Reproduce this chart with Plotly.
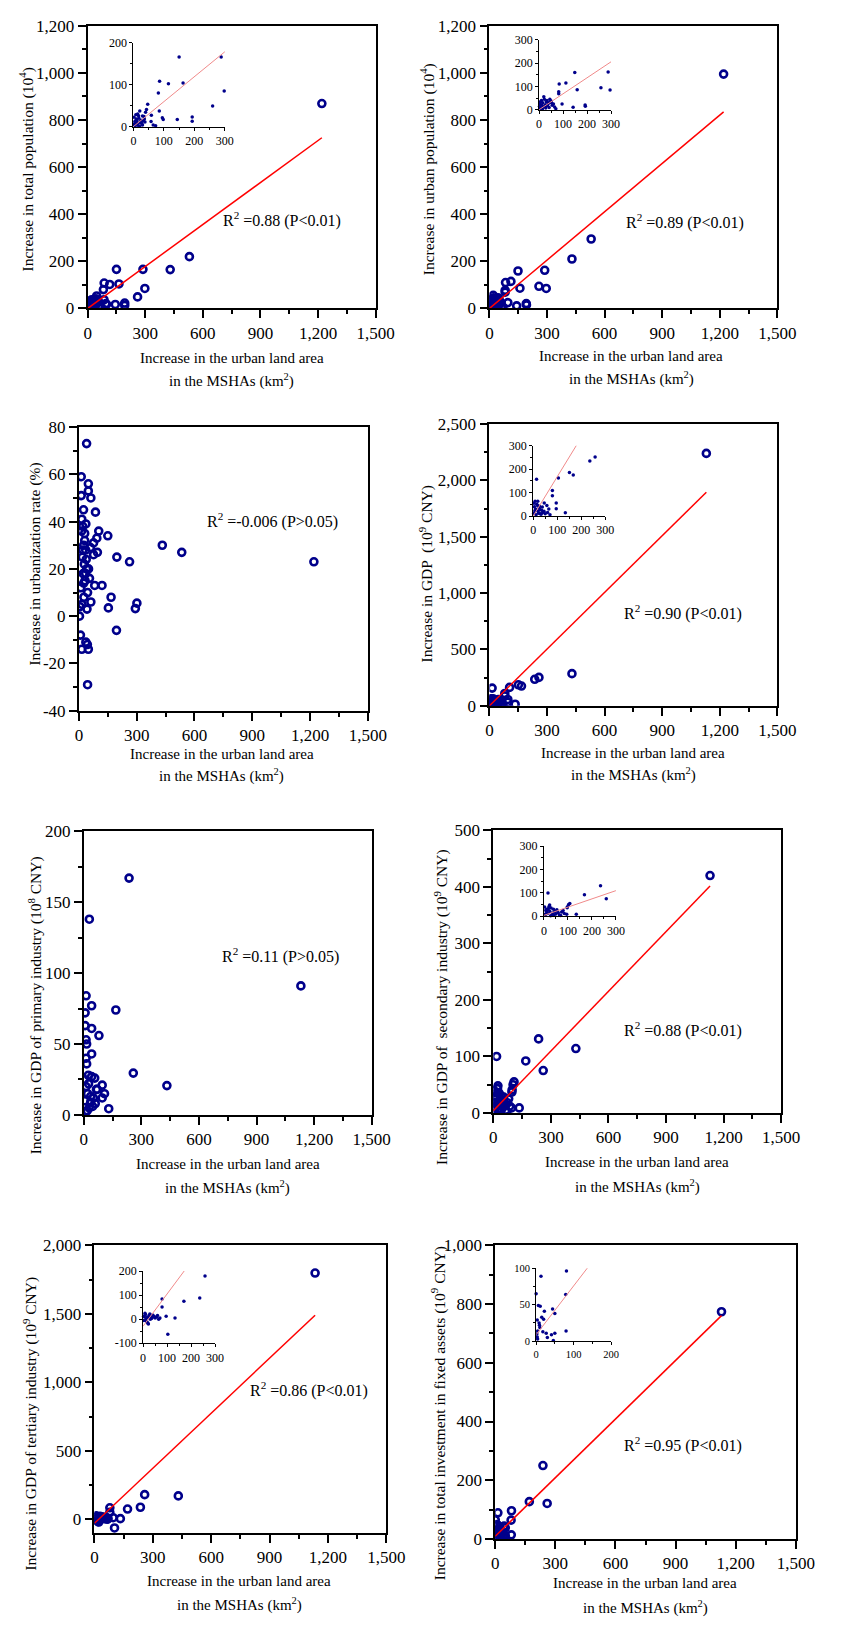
import plotly.graph_objects as go

W, H = 845, 1629
FONT = "Liberation Serif, Times New Roman, serif"
NAVY = "#00008B"

# ---------------- data ----------------
# Panel 1: total population (10^4)
x1 = [1220, 530, 430, 288, 298, 260, 150, 163, 86, 115,
      82, 47, 43, 40, 85, 59, 21, 36, 95, 98,
      144, 193, 193, 73, 65, 58, 30, 25, 18, 12,
      8, 5, 3, 15, 22, 28, 33, 10, 6, 2,
      14, 26, 35, 20, 9, 4, 17, 30, 38, 12]
y1 = [870, 220, 165, 166, 85, 49, 166, 104, 108, 102,
      80, 53, 41, 34, 37, 27, 37, 18, 21, 17,
      17, 23, 13, 2, 4, 12, 25, 15, 20, 8,
      28, 12, 5, 3, 10, 6, 14, 18, 2, 22,
      30, 9, 24, 1, 16, 7, 26, 4, 11, 14]
fit1 = (0.594, 0.0)

# Panel 2: urban population (10^4)
x2 = [1220, 530, 430, 288, 296, 258, 149, 159, 84, 112,
      82, 82, 96, 142, 192, 193, 20, 50, 45, 38,
      30, 55, 60, 25, 15, 10, 5, 3, 8, 12,
      18, 22, 28, 35, 40, 42, 48, 33, 6, 14,
      26, 2, 65, 70, 52]
y2 = [995, 295, 210, 162, 85, 94, 159, 86, 110, 115,
      77, 69, 25, 11, 21, 15, 56, 38, 45, 30,
      35, 20, 25, 15, 30, 40, 10, 25, 5, 20,
      12, 45, 8, 18, 28, 10, 32, 40, 35, 3,
      22, 15, 12, 5, 30]
fit2 = (0.684, 0.0)

# Panel 3: urbanization rate (%)
x3 = [1220, 40, 12, 49, 49, 62, 12, 24, 86, 15,
      36, 103, 150, 93, 76, 96, 433, 534, 197, 263,
      76, 82, 120, 167, 153, 301, 293, 62, 3, 195,
      8, 36, 15, 49, 45, 20, 30, 25, 35, 18,
      28, 40, 22, 32, 10, 45, 55, 38, 26, 16,
      42, 30, 20, 50, 35, 25, 5, 60, 14, 44]
y3 = [23, 73, 59, 56, 53, 50, 51, 45, 44, 41,
      39, 36, 34, 33, 31, 27, 30, 27, 25, 23,
      26, 13, 13, 8, 3.5, 5.5, 3.2, 6, 0, -6,
      -8, -11, -14, -14, -29, 38, 35, 30, 28, 25,
      22, 20, 18, 15, 12, 10, 16, 24, 8, 5,
      3, 32, 28, 20, 18, 14, 4, 29, 36, -12]

# Panel 4: GDP (10^9 CNY)
x4 = [1130, 430, 258, 236, 151, 167, 105, 14, 80, 80,
      96, 96, 134, 46, 57, 19, 8, 5, 10, 15,
      20, 25, 30, 35, 40, 3, 12, 18, 22, 28,
      33, 38, 45, 50, 60, 70, 7, 2, 65, 26]
y4 = [2240, 285, 252, 235, 186, 175, 163, 157, 109, 87,
      56, 31, 14, 56, 45, 63, 63, 40, 30, 50,
      20, 35, 10, 25, 15, 55, 5, 45, 12, 28,
      8, 38, 20, 10, 15, 5, 22, 12, 30, 42]
fit4 = (1.677, 0.0)

# Panel 5: GDP of primary industry (10^8 CNY)
x5 = [1131, 236, 29, 12, 41, 167, 7, 7, 41, 79,
      12, 15, 41, 12, 15, 24, 41, 57, 258, 433,
      96, 66, 108, 96, 36, 46, 130, 36, 12, 5,
      20, 28, 8, 3, 50, 60, 25, 18, 70]
y5 = [91, 167, 138, 84, 77, 74, 72, 63, 61, 56,
      53, 50, 43, 40, 36, 28, 27, 26, 29.5, 20.7,
      21, 18, 15, 12, 13, 6, 4.4, 9, 20, 10,
      15, 5, 2, 25, 12, 8, 22, 3, 18]

# Panel 6: GDP of secondary industry (10^9 CNY)
x6 = [1129, 236, 430, 169, 260, 17, 108, 24, 98, 135,
      103, 97, 54, 74, 95, 22, 11, 30, 40, 45,
      50, 60, 5, 8, 15, 20, 25, 35, 65, 80,
      12, 3, 28, 38, 55, 70, 85, 18, 42, 7]
y6 = [420, 131, 114, 92, 75, 100, 55, 48, 41, 9,
      50, 37, 28, 18, 9, 43, 30, 35, 30, 20,
      10, 15, 5, 25, 12, 35, 20, 8, 5, 25,
      18, 40, 2, 14, 22, 3, 12, 28, 6, 10]
fit6 = (0.352, 4.0)

# Panel 7: GDP of tertiary industry (10^9 CNY)
x7 = [1134, 431, 258, 236, 170, 79, 133, 103, 79, 96,
      70, 56, 37, 20, 10, 5, 15, 25, 30, 40,
      45, 50, 8, 3, 12, 18, 22, 28, 35, 60,
      2, 14, 42, 65]
y7 = [1798, 171, 180, 88, 75, 84, 5, -63, 51, 12,
      5, 9, 7, -17, 20, 10, -10, 15, 0, 18,
      12, 5, 25, -5, 2, 8, -20, 22, 3, 15,
      12, -8, 10, 0]
fit7 = (1.34, -29.0)

# Panel 8: total investment in fixed assets (10^9 CNY)
x8 = [1129, 238, 259, 170, 81, 79, 80, 13, 0, 6,
      11, 22, 44, 50, 15, 3, 10, 18, 27, 50,
      41, 46, 4, 3, 9, 4, 8, 2, 20, 30]
y8 = [774, 250, 121, 127, 96, 64, 14, 89, 65, 49,
      48, 41, 44, 38, 33, 29, 19, 13, 11, 11,
      9, 1, 3, 6, 22, 14, 25, 10, 30, 5]
fit8 = (0.666, 9.0)

y_titles = [
    "Increase in total population (10<sup>4</sup>)",
    "Increase in urban population (10<sup>4</sup>)",
    "Increase in urbanization rate (%)",
    "Increase in GDP  (10<sup>9</sup> CNY)",
    "Increase in GDP of primary industry (10<sup>8</sup> CNY)",
    "Increase in GDP of  secondary industry (10<sup>9</sup> CNY)",
    "Increase in GDP of tertiary industry (10<sup>9</sup> CNY)",
    "Increase in total investment in fixed assets (10<sup>9</sup> CNY)",
]
r2_texts = [
    "R<sup>2</sup> =0.88 (P&lt;0.01)",
    "R<sup>2</sup> =0.89 (P&lt;0.01)",
    "R<sup>2</sup> =-0.006 (P&gt;0.05)",
    "R<sup>2</sup> =0.90 (P&lt;0.01)",
    "R<sup>2</sup> =0.11 (P&gt;0.05)",
    "R<sup>2</sup> =0.88 (P&lt;0.01)",
    "R<sup>2</sup> =0.86 (P&lt;0.01)",
    "R<sup>2</sup> =0.95 (P&lt;0.01)",
]
x_title_1 = "Increase in the urban land area"
x_title_2 = "in the MSHAs (km<sup>2</sup>)"

# ---------------- layout config (pixel positions on the page) ----------------
panels = [
    dict(x=x1, y=y1, fit=fit1, yr=[0, 1200], ydt=200, box=(86, 382, 17, 303),
         yt=(23, 162), xt=(234, 353, 376), r2=(223, 213),
         inset=dict(xr=[0, 300], yr=[0, 200], xdt=100, ydt=100, px=(133, 227), py=(119, 34), fs=12)),
    dict(x=x2, y=y2, fit=fit2, yr=[0, 1200], ydt=200, box=(499, 795, 17, 303),
         yt=(435, 162), xt=(645, 351, 374), r2=(637, 215),
         inset=dict(xr=[0, 300], yr=[0, 300], xdt=100, ydt=100, px=(550, 624), py=(102, 31), fs=12)),
    dict(x=x3, y=y3, fit=None, yr=[-40, 80], ydt=20, box=(77, 374, 423, 710),
         yt=(32, 562), xt=(224, 754, 776), r2=(207, 518), inset=None),
    dict(x=x4, y=y4, fit=fit4, yr=[0, 2500], ydt=500, box=(499, 795, 420, 705),
         yt=(434, 572), xt=(647, 753, 775), r2=(635, 611),
         inset=dict(xr=[0, 300], yr=[0, 300], xdt=100, ydt=100, px=(544, 618), py=(513, 442), fs=12)),
    dict(x=x5, y=y5, fit=None, yr=[0, 200], ydt=50, box=(82, 378, 832, 1119),
         yt=(32, 1008), xt=(230, 1169, 1192), r2=(222, 958), inset=None),
    dict(x=x6, y=y6, fit=fit6, yr=[0, 500], ydt=100, box=(503, 799, 831, 1117),
         yt=(449, 1010), xt=(651, 1167, 1191), r2=(635, 1033),
         inset=dict(xr=[0, 300], yr=[0, 300], xdt=100, ydt=100, px=(555, 629), py=(918, 847), fs=12)),
    dict(x=x7, y=y7, fit=fit7, yr=[-100, 2000], ydt=500, box=(93, 393, 1251, 1542),
         yt=(27, 1431), xt=(242, 1591, 1614), r2=(251, 1397),
         inset=dict(xr=[0, 300], yr=[-100, 200], xdt=100, ydt=100, px=(143, 217), py=(1350, 1277), fs=12)),
    dict(x=x8, y=y8, fit=fit8, yr=[0, 1000], ydt=200, box=(505, 814, 1251, 1548),
         yt=(447, 1421), xt=(659, 1593, 1617), r2=(635, 1452),
         inset=dict(xr=[0, 200], yr=[0, 100], xdt=100, ydt=50, px=(547, 624), py=(1348, 1274), fs=10.5)),
]


def px_x(p):
    return p / W


def px_y(p):
    return 1 - p / H


def tick_list(lo, hi, step):
    vals = []
    v = lo
    while v <= hi + 1e-9:
        vals.append(v)
        v += step
    return vals


def tick_text(vals):
    return ["{:,}".format(int(v)) for v in vals]  # plain hyphen for negatives


fig = go.Figure()
layout = dict(width=W, height=H, margin=dict(l=0, r=0, t=0, b=0), showlegend=False,
              paper_bgcolor="white", plot_bgcolor="white",
              font=dict(family=FONT, color="black"))
annotations = []


def ax_name(kind, n):
    return f"{kind}axis" if n == 1 else f"{kind}axis{n}"


def ref(kind, n):
    return kind if n == 1 else f"{kind}{n}"


for i, p in enumerate(panels):
    n = i + 1
    l, r, t, b = p["box"]
    common = dict(showline=True, mirror=True, linecolor="black", linewidth=1.8,
                  ticks="outside", ticklen=8, tickwidth=1.5, tickcolor="black",
                  showgrid=False, zeroline=False,
                  tickfont=dict(size=17, family=FONT, color="black"))
    xv = tick_list(0, 1500, 300)
    layout[ax_name("x", n)] = dict(common, domain=[px_x(l), px_x(r)], range=[0, 1500],
                                   anchor=ref("y", n), tickmode="array", tickvals=xv,
                                   ticktext=tick_text(xv),
                                   minor=dict(tickmode="linear", tick0=0, dtick=150, ticklen=4,
                                              tickwidth=1.5, tickcolor="black", ticks="outside"))
    yv = tick_list(p["yr"][0] if p["yr"][0] % p["ydt"] == 0 else 0, p["yr"][1], p["ydt"])
    layout[ax_name("y", n)] = dict(common, domain=[px_y(b), px_y(t)], range=p["yr"],
                                   anchor=ref("x", n), tickmode="array", tickvals=yv,
                                   ticktext=tick_text(yv),
                                   minor=dict(tickmode="linear", tick0=0, dtick=p["ydt"] / 2,
                                              ticklen=4, tickwidth=1.5, tickcolor="black",
                                              ticks="outside"))
    fig.add_trace(go.Scatter(x=p["x"], y=p["y"], mode="markers",
                             xaxis=ref("x", n), yaxis=ref("y", n),
                             marker=dict(symbol="circle-open", size=7, color=NAVY,
                                         line=dict(width=2.6, color=NAVY))))
    if p["fit"] is not None:
        s, c = p["fit"]
        xe = [0, max(p["x"])]
        fig.add_trace(go.Scatter(x=xe, y=[s * v + c for v in xe], mode="lines",
                                 xaxis=ref("x", n), yaxis=ref("y", n),
                                 line=dict(color="#FF0000", width=1.5)))
    # annotations
    annotations.append(dict(text=y_titles[i], x=px_x(p["yt"][0]), y=px_y(p["yt"][1]),
                            xref="paper", yref="paper", showarrow=False, textangle=-90,
                            xanchor="center", yanchor="middle",
                            font=dict(size=15.5, family=FONT, color="black")))
    cx, ly1, ly2 = p["xt"]
    for txt, yy in ((x_title_1, ly1), (x_title_2, ly2)):
        annotations.append(dict(text=txt, x=px_x(cx), y=px_y(yy), xref="paper", yref="paper",
                                showarrow=False, xanchor="center", yanchor="middle",
                                font=dict(size=15, family=FONT, color="black")))
    annotations.append(dict(text=r2_texts[i], x=px_x(p["r2"][0]), y=px_y(p["r2"][1]),
                            xref="paper", yref="paper", showarrow=False,
                            xanchor="left", yanchor="middle",
                            font=dict(size=16, family=FONT, color="black")))

    ins = p["inset"]
    if ins is not None:
        m = n + 8
        icommon = dict(showline=True, mirror=False, linecolor="black", linewidth=1,
                       ticks="outside", ticklen=3, tickwidth=1, tickcolor="black",
                       showgrid=False, zeroline=False,
                       tickfont=dict(size=ins["fs"], family=FONT, color="black"))
        ixv = tick_list(ins["xr"][0], ins["xr"][1], ins["xdt"])
        iyv = tick_list(ins["yr"][0], ins["yr"][1], ins["ydt"])
        layout[ax_name("x", m)] = dict(icommon, domain=[px_x(ins["px"][0]), px_x(ins["px"][1])],
                                       range=ins["xr"], anchor=ref("y", m), tickmode="array",
                                       tickvals=ixv, ticktext=tick_text(ixv),
                                       minor=dict(tickmode="linear", tick0=0, dtick=ins["xdt"] / 2,
                                                  ticklen=2, tickwidth=1, tickcolor="black",
                                                  ticks="outside"))
        layout[ax_name("y", m)] = dict(icommon, domain=[px_y(ins["py"][0]), px_y(ins["py"][1])],
                                       range=ins["yr"], anchor=ref("x", m), tickmode="array",
                                       tickvals=iyv, ticktext=tick_text(iyv),
                                       minor=dict(tickmode="linear", tick0=0, dtick=ins["ydt"] / 2,
                                                  ticklen=2, tickwidth=1, tickcolor="black",
                                                  ticks="outside"))
        xs, ys = [], []
        for a, v in zip(p["x"], p["y"]):
            if ins["xr"][0] <= a <= ins["xr"][1] and ins["yr"][0] <= v <= ins["yr"][1]:
                xs.append(a)
                ys.append(v)
        fig.add_trace(go.Scatter(x=xs, y=ys, mode="markers", cliponaxis=False,
                                 xaxis=ref("x", m), yaxis=ref("y", m),
                                 marker=dict(symbol="circle", size=3.5, color=NAVY,
                                             line=dict(width=0))))
        s, c = p["fit"]
        xe = [0, max(p["x"])]
        fig.add_trace(go.Scatter(x=xe, y=[s * v + c for v in xe], mode="lines",
                                 xaxis=ref("x", m), yaxis=ref("y", m),
                                 line=dict(color="#F08A8A", width=1)))

layout["annotations"] = annotations
fig.update_layout(**layout)
# remove the browser's default 8px body margin so the figure fills the window exactly
fig.write_html("out.html",
               config={"displayModeBar": False},
               post_script="document.body.style.margin='0';document.body.style.overflow='hidden';")
